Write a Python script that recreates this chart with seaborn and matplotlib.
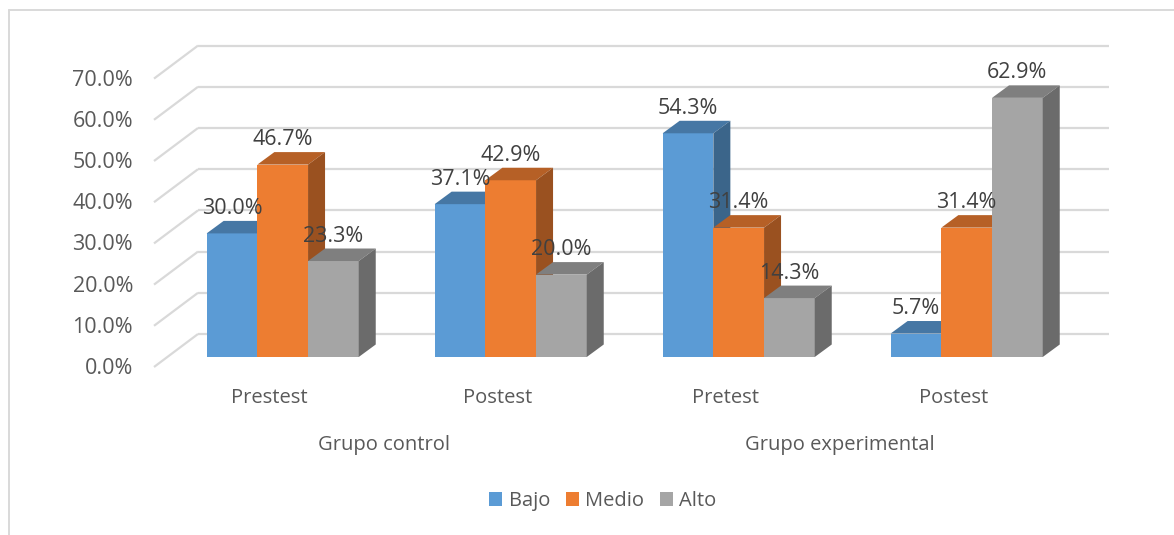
import matplotlib
matplotlib.use("Agg")
import matplotlib.pyplot as plt
from matplotlib.patches import Polygon, Patch
from matplotlib.lines import Line2D
from matplotlib.colors import to_rgb
import pandas as pd
import seaborn as sns

# ---- data -------------------------------------------------------------
grupos = ["Grupo control", "Grupo experimental"]
fases = ["Prestest", "Postest", "Pretest", "Postest"]
grupo_de_fase = [0, 0, 1, 1]
niveles = ["Bajo", "Medio", "Alto"]
bajo = [30.0, 37.1, 54.3, 5.7]
medio = [46.7, 42.9, 31.4, 31.4]
alto = [23.3, 20.0, 14.3, 62.9]
y_ticks = [0, 10, 20, 30, 40, 50, 60, 70]

colores = ["#5B9BD5", "#ED7D31", "#A5A5A5"]

# ---- table for seaborn -------------------------------------------------
claves = [f"{grupos[g]}|{f}|{i}" for i, (f, g) in enumerate(zip(fases, grupo_de_fase))]
filas = []
for nivel, serie in zip(niveles, [bajo, medio, alto]):
    for clave, v in zip(claves, serie):
        filas.append({"clave": clave, "nivel": nivel, "valor": v})
df = pd.DataFrame(filas)

# ---- layout (pixels of the 1174x535 canvas) ----------------------------
W, H = 1174, 535
PX_CAT = 228.0          # pixels between category centres
PX_PCT = 4.12           # pixels per percentage point
X0, Y0 = 282.7, 357.0   # first category centre / baseline of the bar fronts

def dx(px):  # horizontal pixel shift -> category units
    return px / PX_CAT

def dy(px):  # vertical pixel shift (upwards) -> percent units
    return px / PX_PCT

# oblique depth of the bars and of the walls
BAR_DX, BAR_DY = dx(17), dy(12.5)
FRONT_DX, FRONT_DY = dx(-13), dy(-10)    # front edge of the floor
BACK_DX, BACK_DY = dx(31), dy(23)        # back wall

NUM_SIZE = 15.5
TXT_SIZE = 14.5

sns.set_theme(style="white")
plt.rcParams["font.family"] = ["Open Sans", "DejaVu Sans"]

fig = plt.figure(figsize=(W / 100, H / 100), dpi=100)
ax = fig.add_axes([0, 0, 1, 1])

sns.barplot(data=df, x="clave", y="valor", hue="nivel", hue_order=niveles,
            order=claves, palette=colores, saturation=1, width=0.667,
            legend=False, ax=ax)

ax.set_xlim(-X0 / PX_CAT, (W - X0) / PX_CAT)
ax.set_ylim((Y0 - H) / PX_PCT, Y0 / PX_PCT)
ax.axis("off")

# ---- gridlines on the back wall and the left wall ---------------------
grid_c = "#D9D9D9"
wall_front_x = -X0 / PX_CAT + dx(154)
wall_back_x = wall_front_x + (BACK_DX - FRONT_DX)
back_right_x = -X0 / PX_CAT + dx(1109)
for t in y_ticks:
    yb = t + BACK_DY
    yf = t + FRONT_DY
    ax.plot([wall_back_x, back_right_x], [yb, yb], color=grid_c, lw=1.6,
            zorder=1, solid_capstyle="butt")
    ax.plot([wall_front_x, wall_back_x], [yf, yb], color=grid_c, lw=1.6,
            zorder=1, solid_capstyle="butt")
    ax.text(-X0 / PX_CAT + dx(133), yf - dy(1.5), f"{t:.1f}%", ha="right",
            va="center", fontsize=NUM_SIZE, color="#595959")


def shade(c, f):
    r, g, b = to_rgb(c)
    return (r * f, g * f, b * f)

# ---- 3-D faces on every bar -------------------------------------------
barras = sorted(ax.patches, key=lambda p: p.get_x())
for k, p in enumerate(barras):
    x, w, h = p.get_x(), p.get_width(), p.get_height()
    base = p.get_facecolor()
    z = 3 + 3 * k
    p.set_zorder(z)
    p.set_edgecolor("none")
    top = Polygon([(x, h), (x + BAR_DX, h + BAR_DY), (x + w + BAR_DX, h + BAR_DY),
                   (x + w, h)], closed=True, facecolor=shade(base, 0.77),
                  edgecolor="none", zorder=z + 1)
    side = Polygon([(x + w, 0), (x + w + BAR_DX, BAR_DY),
                    (x + w + BAR_DX, h + BAR_DY), (x + w, h)], closed=True,
                   facecolor=shade(base, 0.65), edgecolor="none", zorder=z + 2)
    ax.add_patch(top)
    ax.add_patch(side)
    ax.annotate(f"{h:.1f}%", (x + w / 2, h), xytext=(0, 25),
                textcoords="offset pixels", ha="center", va="center",
                fontsize=NUM_SIZE, color="#404040", zorder=100)

# ---- category labels ---------------------------------------------------
for i, f in enumerate(fases):
    ax.text(i + FRONT_DX, (Y0 - 398) / PX_PCT, f,
            ha="center", va="center", fontsize=TXT_SIZE, color="#595959")
for g, nombre in enumerate(grupos):
    idx = [i for i, gg in enumerate(grupo_de_fase) if gg == g]
    xc = sum(idx) / len(idx) + FRONT_DX
    ax.text(xc, (Y0 - 445) / PX_PCT, nombre, ha="center", va="center",
            fontsize=TXT_SIZE, color="#595959")

# ---- legend ------------------------------------------------------------
handles = [Patch(facecolor=c, edgecolor="none", label=n)
           for c, n in zip(colores, niveles)]
fig.legend(handles=handles, loc="center", bbox_to_anchor=(603 / W, 1 - 501 / H),
           ncol=3, frameon=False, fontsize=TXT_SIZE, labelcolor="#595959",
           handlelength=0.65, handleheight=0.65, handletextpad=0.3,
           columnspacing=0.8, borderpad=0)

# ---- chart frame -------------------------------------------------------
frame_c = "#D9D9D9"
fig.add_artist(Line2D([8.5 / W, 8.5 / W], [0, 1 - 10 / H], color=frame_c,
                      lw=1.4, transform=fig.transFigure))
fig.add_artist(Line2D([8.5 / W, 1], [1 - 10 / H, 1 - 10 / H], color=frame_c,
                      lw=1.4, transform=fig.transFigure))

fig.savefig("out.png", dpi=100, facecolor="white")
